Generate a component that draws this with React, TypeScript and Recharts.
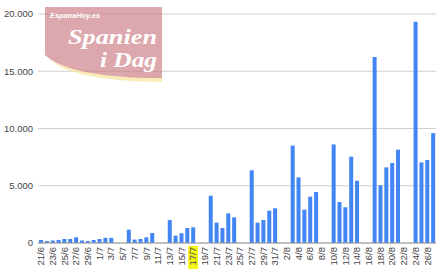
import React from "react";
import { BarChart, Bar, XAxis, YAxis, CartesianGrid } from "recharts";

const DAYS = [
  "21/6", "22/6", "23/6", "24/6", "25/6", "26/6", "27/6", "28/6", "29/6", "30/6",
  "1/7", "2/7", "3/7", "4/7", "5/7", "6/7", "7/7", "8/7", "9/7", "10/7",
  "11/7", "12/7", "13/7", "14/7", "15/7", "16/7", "17/7", "18/7", "19/7", "20/7",
  "21/7", "22/7", "23/7", "24/7", "25/7", "26/7", "27/7", "28/7", "29/7", "30/7",
  "31/7", "1/8", "2/8", "3/8", "4/8", "5/8", "6/8", "7/8", "8/8", "9/8",
  "10/8", "11/8", "12/8", "13/8", "14/8", "15/8", "16/8", "17/8", "18/8", "19/8",
  "20/8", "21/8", "22/8", "23/8", "24/8", "25/8", "26/8", "27/8",
];

const CASES = [
  260, 170, 220, 260, 350, 350, 500, 220, 170, 260,
  350, 450, 450, 0, 0, 1160, 300, 350, 500, 870,
  0, 0, 2000, 640, 850, 1310, 1370, 0, 0, 4130,
  1780, 1310, 2590, 2240, 0, 0, 6350, 1780, 2010, 2820,
  3030, 0, 0, 8500, 5730, 2910, 4050, 4450, 0, 0,
  8610, 3580, 3120, 7540, 5440, 0, 0, 16240, 5040, 6600,
  6990, 8150, 0, 0, 19320, 7040, 7250, 9600,
];

const Y_TICKS = [0, 5000, 10000, 15000, 20000];
const HIGHLIGHTED_DAY = "17/7";

const data = DAYS.map((day, i) => ({ day, value: CASES[i] }));

const FONT = "'Liberation Sans', Arial, sans-serif";
const SERIF = "'Liberation Serif', 'DejaVu Serif', serif";

const fmt = (v: number) => String(v).replace(/\B(?=(\d{3})+(?!\d))/g, ".");

const DayTick = (props: any) => {
  const { x, y, payload } = props;
  const label = payload.value;
  return (
    <g transform={`translate(${x},${y})`}>
      {label === HIGHLIGHTED_DAY && (
        <rect x={-5} y={-1} width={10} height={23} fill="#f5f51a" />
      )}
      <text
        transform="rotate(-90)"
        textAnchor="end"
        dy="0.35em"
        fontSize={9.5}
        fontFamily={FONT}
        fill="#444"
      >
        {label}
      </text>
    </g>
  );
};

// watermark logo in the top-left corner
const Logo = () => (
  <svg
    width={440}
    height={275}
    style={{ position: "absolute", left: 0, top: 0, pointerEvents: "none" }}
  >
    <path d="M52,61 Q75,81 162,82 L162,77 Q70,78 45,55 Z" fill="#f6e49a" opacity={0.7} />
    <path d="M45,7 H162 V78 Q70,78 45,55 Z" fill="#c46d77" opacity={0.6} />
    <text
      x={50}
      y={18}
      fontSize={8}
      fontStyle="italic"
      fontWeight="bold"
      fontFamily={FONT}
      fill="#fff"
      textLength={50}
      lengthAdjust="spacingAndGlyphs"
    >
      EspanaHoy.es
    </text>
    <text
      x={68}
      y={44}
      fontSize={22}
      fontStyle="italic"
      fontWeight="bold"
      fontFamily={SERIF}
      fill="#fff"
      textLength={89}
      lengthAdjust="spacingAndGlyphs"
    >
      Spanien
    </text>
    <text
      x={100}
      y={67}
      fontSize={22}
      fontStyle="italic"
      fontWeight="bold"
      fontFamily={SERIF}
      fill="#fff"
      textLength={57}
      lengthAdjust="spacingAndGlyphs"
    >
      i Dag
    </text>
  </svg>
);

export default function App() {
  return (
    <div
      style={{
        position: "absolute",
        left: 0,
        top: 0,
        width: 440,
        height: 275,
        background: "#fff",
      }}
    >
      <BarChart
        width={440}
        height={275}
        data={data}
        margin={{ top: 14, right: 4, bottom: 0, left: 0 }}
      >
        <CartesianGrid vertical={false} stroke="#d0d0d0" />
        <XAxis
          dataKey="day"
          interval={1}
          height={32}
          tickSize={0}
          tickMargin={4}
          tick={<DayTick />}
          axisLine={{ stroke: "#999" }}
        />
        <YAxis
          width={38}
          domain={[0, 20000]}
          ticks={Y_TICKS}
          tickFormatter={fmt}
          axisLine={false}
          tickLine={false}
          tickSize={0}
          tickMargin={5}
          tick={{ fontSize: 9.5, fontFamily: FONT, fill: "#444" }}
        />
        <Bar dataKey="value" fill="#4285f4" barSize={4} isAnimationActive={false} />
      </BarChart>
      <Logo />
    </div>
  );
}
